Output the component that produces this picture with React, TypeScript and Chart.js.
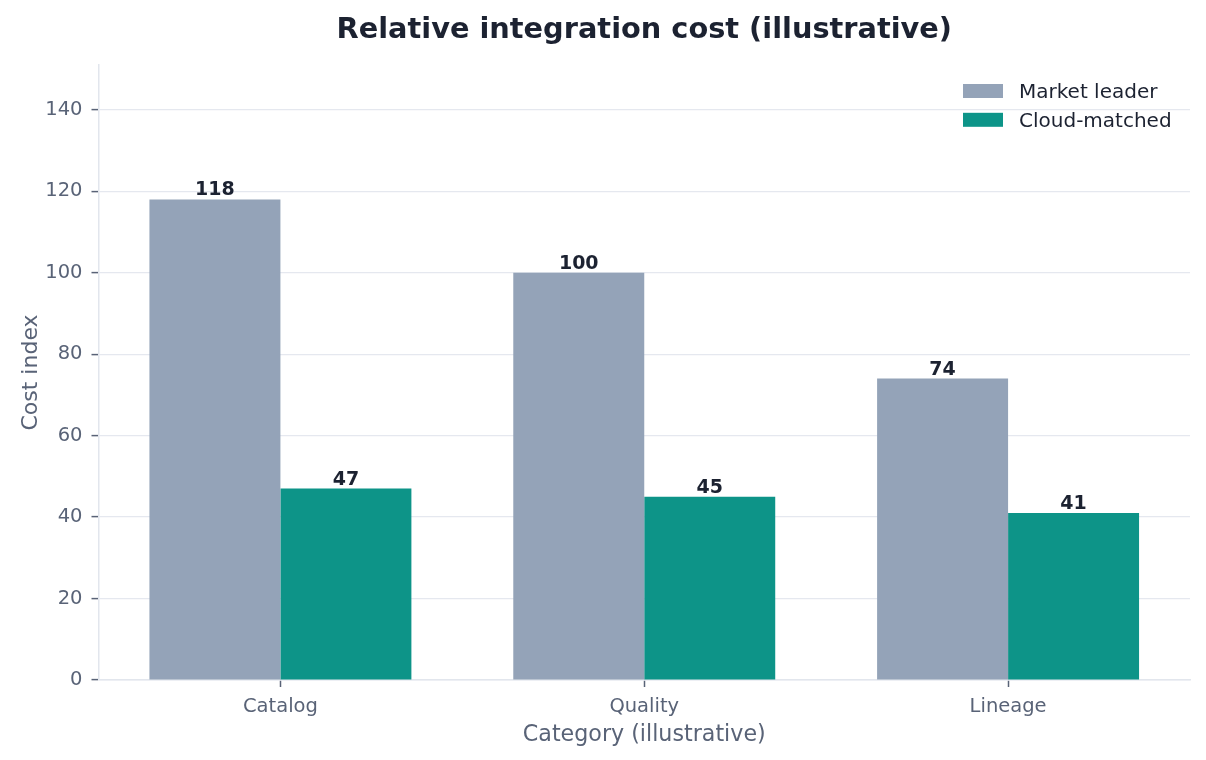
import React, { useEffect, useRef } from "react";
import { Chart, registerables } from "chart.js";

Chart.register(...registerables);

const chartTitle = "Relative integration cost (illustrative)";
const xAxisTitle = "Category (illustrative)";
const yAxisTitle = "Cost index";
const categories = ["Catalog", "Quality", "Lineage"];
const seriesNames = ["Market leader", "Cloud-matched"];
const marketLeader = [118, 100, 74];
const cloudMatched = [47, 45, 41];
const yTicks = [0, 20, 40, 60, 80, 100, 120, 140];
const yMax = 151;

const FONT = "'DejaVu Sans', 'Liberation Sans', sans-serif";
const GRAY = "#94a3b8";
const TEAL = "#0d9488";
const DARK = "#1c2231";
const MUTED = "#596377";
const GRID = "#e5e8ef";
const SPINE = "#e2e6ed";

const overlayPlugin = {
  id: "overlay",
  afterDatasetsDraw(chart: any) {
    const ctx = chart.ctx;
    ctx.save();
    ctx.fillStyle = DARK;
    ctx.font = `bold 19px ${FONT}`;
    ctx.textAlign = "center";
    ctx.textBaseline = "alphabetic";
    chart.data.datasets.forEach((ds: any, di: number) => {
      const meta = chart.getDatasetMeta(di);
      meta.data.forEach((bar: any, i: number) => {
        const v = ds.data[i];
        ctx.fillText(String(Math.round(v)), bar.x, bar.y - 4);
      });
    });
    ctx.restore();
  },
  afterDraw(chart: any) {
    const ctx = chart.ctx;
    const area = chart.chartArea;
    ctx.save();
    const cx = (area.left + area.right) / 2;
    // title
    ctx.fillStyle = DARK;
    ctx.font = `bold 28.8px ${FONT}`;
    ctx.textAlign = "center";
    ctx.textBaseline = "alphabetic";
    ctx.fillText(chartTitle, cx, 38);
    // x axis title
    ctx.fillStyle = MUTED;
    ctx.font = `22.2px ${FONT}`;
    ctx.fillText(xAxisTitle, cx, 741);
    // y axis title
    ctx.save();
    ctx.translate(37, (area.top + area.bottom) / 2);
    ctx.rotate(-Math.PI / 2);
    ctx.textAlign = "center";
    ctx.font = `22px ${FONT}`;
    ctx.fillText(yAxisTitle, 0, 0);
    ctx.restore();
    // legend
    const colors = [GRAY, TEAL];
    const boxLeft = area.right - 227;
    ctx.font = `20px ${FONT}`;
    ctx.textAlign = "left";
    seriesNames.forEach((name, i) => {
      const top = area.top + 19 + i * 28.8;
      ctx.fillStyle = colors[i];
      ctx.fillRect(boxLeft, top, 40, 14);
      ctx.fillStyle = DARK;
      ctx.fillText(name, boxLeft + 56, top + 14.3);
    });
    ctx.restore();
  },
};

export default function App() {
  const canvasRef = useRef<HTMLCanvasElement | null>(null);

  useEffect(() => {
    if (!canvasRef.current) return;
    const chart = new Chart(canvasRef.current, {
      type: "bar",
      data: {
        labels: categories,
        datasets: [
          {
            label: seriesNames[0],
            data: marketLeader,
            backgroundColor: GRAY,
            categoryPercentage: 0.72,
            barPercentage: 1.0,
          },
          {
            label: seriesNames[1],
            data: cloudMatched,
            backgroundColor: TEAL,
            categoryPercentage: 0.72,
            barPercentage: 1.0,
          },
        ],
      },
      options: {
        animation: false,
        responsive: false,
        maintainAspectRatio: false,
        layout: { padding: { top: 65, right: 16, left: 0, bottom: 0 } },
        plugins: {
          legend: { display: false },
          title: { display: false },
          tooltip: { enabled: false },
        },
        scales: {
          x: {
            offset: true,
            grid: {
              offset: false,
              drawOnChartArea: false,
              drawTicks: true,
              tickLength: 7,
              tickColor: MUTED,
              tickWidth: 1.5,
            },
            border: { display: true, color: SPINE, width: 1.5 },
            ticks: {
              color: MUTED,
              font: { family: FONT, size: 19.5 },
              padding: 8,
            },
            afterFit: (s: any) => {
              s.height = 80;
            },
          },
          y: {
            min: 0,
            max: yMax,
            grid: {
              color: GRID,
              lineWidth: 1.2,
              drawTicks: true,
              tickLength: 7,
              tickColor: MUTED,
              tickWidth: 1.5,
            },
            border: { display: true, color: SPINE, width: 1.5 },
            ticks: {
              color: MUTED,
              font: { family: FONT, size: 19.5 },
              padding: 9,
            },
            afterBuildTicks: (s: any) => {
              s.ticks = yTicks.map((v) => ({ value: v }));
            },
            afterFit: (s: any) => {
              s.width = 98.5;
            },
          },
        },
      },
      plugins: [overlayPlugin],
    });
    return () => chart.destroy();
  }, []);

  return (
    <div style={{ position: "fixed", left: 0, top: 0, width: 1206, height: 760, background: "#ffffff" }}>
      <canvas ref={canvasRef} width={1206} height={760} style={{ width: 1206, height: 760, display: "block" }} />
    </div>
  );
}
